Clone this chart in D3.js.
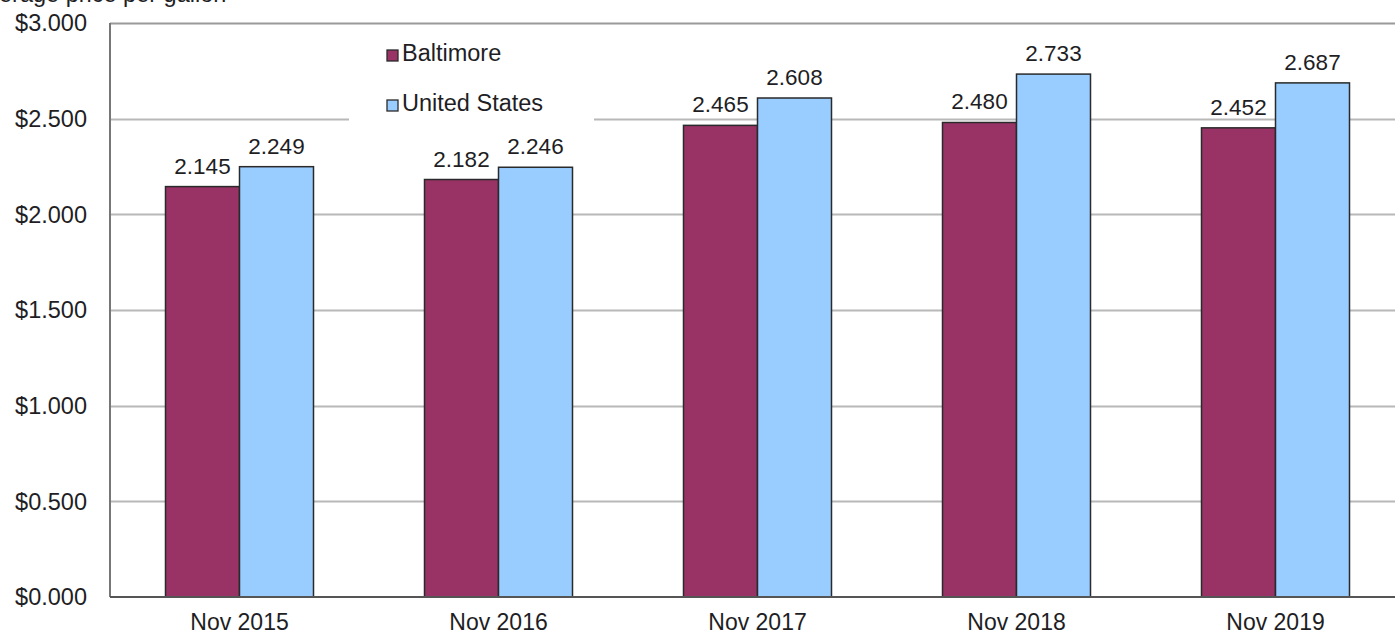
<!DOCTYPE html>
<html>
<head>
<meta charset="utf-8">
<script src="https://cdn.jsdelivr.net/npm/d3@7"></script>
<style>
  html, body { margin: 0; padding: 0; background: #fff; }
  svg { display: block; }
  text { font-family: "Liberation Sans", Arial, sans-serif; fill: #1e1e24; }
</style>
</head>
<body>
<svg id="chart" width="1395" height="635"></svg>
<script>
// Average gasoline price per gallon, November of each year
const categories = ["Nov 2015", "Nov 2016", "Nov 2017", "Nov 2018", "Nov 2019"];
const baltimore = [2.145, 2.182, 2.465, 2.480, 2.452];
const unitedStates = [2.249, 2.246, 2.608, 2.733, 2.687];
const seriesNames = ["Baltimore", "United States"];
const yTicks = [0, 0.5, 1.0, 1.5, 2.0, 2.5, 3.0];

const colors = ["#993366", "#99ccff"];
const svg = d3.select("#chart");
const margin = { left: 110, top: 23, bottom: 597 };
const bandStep = 259;
const fontSize = 23.5;

const x = d3.scaleBand()
  .domain(categories)
  .range([margin.left, margin.left + bandStep * categories.length])
  .paddingInner(0).paddingOuter(0);

const xSub = d3.scaleBand()
  .domain(seriesNames)
  .range([0, 148]);

const y = d3.scaleLinear().domain([0, 3]).range([margin.bottom, margin.top]);

// axis title, running off the top of the page
svg.append("text")
  .attr("x", -28).attr("y", 2)
  .attr("font-size", 23.5)
  .text("Average price per gallon");

// gridlines
svg.append("g")
  .selectAll("line")
  .data(yTicks.filter(d => d > 0))
  .join("line")
  .attr("x1", margin.left).attr("x2", 1395)
  .attr("y1", d => Math.round(y(d)) + 0.5)
  .attr("y2", d => Math.round(y(d)) + 0.5)
  .attr("stroke", "#b8b8b8").attr("stroke-width", 2);

// y-axis tick labels
const yAxis = d3.axisLeft(y)
  .tickValues(yTicks)
  .tickSize(0)
  .tickPadding(23)
  .tickFormat(d => "$" + d.toFixed(3));
const gy = svg.append("g")
  .attr("transform", `translate(${margin.left},0)`)
  .call(yAxis);
gy.select(".domain").remove();
gy.selectAll("text").attr("font-size", fontSize).attr("fill", "#1e1e24")
  .attr("dy", "0.33em")
  .attr("font-family", "Liberation Sans, Arial, sans-serif");

// legend backing (hides gridline behind it)
const legend = svg.append("g");
legend.append("rect")
  .attr("x", 349).attr("y", 30).attr("width", 245).attr("height", 98)
  .attr("fill", "#fff");

// bars
const rows = categories.map((c, i) => ({ cat: c, values: [baltimore[i], unitedStates[i]] }));
const groups = svg.append("g")
  .selectAll("g")
  .data(rows)
  .join("g")
  .attr("transform", d => `translate(${x(d.cat) + x.bandwidth() / 2 - 74},0)`);

groups.selectAll("rect")
  .data(d => d.values.map((v, j) => ({ name: seriesNames[j], v, j })))
  .join("rect")
  .attr("x", d => xSub(d.name))
  .attr("y", d => y(d.v))
  .attr("width", xSub.bandwidth())
  .attr("height", d => y(0) - y(d.v))
  .attr("fill", d => colors[d.j])
  .attr("stroke", "#2a2a2a").attr("stroke-width", 1.5);

groups.selectAll("text.val")
  .data(d => d.values.map((v, j) => ({ name: seriesNames[j], v, j })))
  .join("text")
  .attr("class", "val")
  .attr("x", d => xSub(d.name) + xSub.bandwidth() / 2)
  .attr("y", d => y(d.v) - 13)
  .attr("text-anchor", "middle")
  .attr("font-size", fontSize - 1)
  .text(d => d.v.toFixed(3));

// plot frame: top border, left axis, bottom axis
svg.append("line")
  .attr("x1", margin.left).attr("x2", 1395)
  .attr("y1", margin.top + 0.5).attr("y2", margin.top + 0.5)
  .attr("stroke", "#9a9a9a").attr("stroke-width", 1.5);
svg.append("line")
  .attr("x1", margin.left).attr("x2", margin.left)
  .attr("y1", margin.top).attr("y2", margin.bottom)
  .attr("stroke", "#777").attr("stroke-width", 2);

const xAxis = d3.axisBottom(x).tickSize(0).tickPadding(0);
const gx = svg.append("g")
  .attr("transform", `translate(0,${margin.bottom})`)
  .call(xAxis);
gx.select(".domain").attr("stroke", "#555").attr("stroke-width", 2)
  .attr("d", `M${margin.left},0H1395`);
gx.selectAll("text").attr("font-size", fontSize - 0.5).attr("fill", "#1e1e24")
  .attr("font-family", "Liberation Sans, Arial, sans-serif")
  .attr("y", 33).attr("dy", 0);

// legend entries
seriesNames.forEach((name, i) => {
  const base = 61 + i * 50;
  legend.append("rect")
    .attr("x", 387).attr("y", base - 11).attr("width", 11).attr("height", 11)
    .attr("fill", colors[i]).attr("stroke", "#2a2a2a").attr("stroke-width", 1.3);
  legend.append("text")
    .attr("x", 402).attr("y", base)
    .attr("font-size", fontSize)
    .text(name);
});
</script>
</body>
</html>
